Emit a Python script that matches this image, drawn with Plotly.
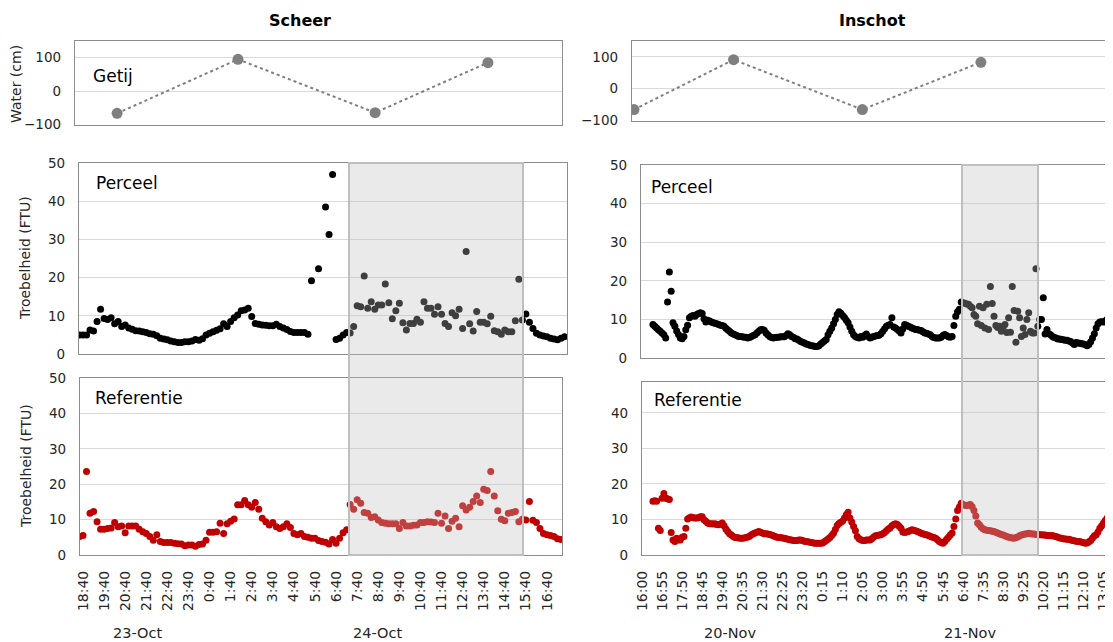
import pandas as pd
import plotly.graph_objects as go

W, H = 1113, 642

# ---------------- data ----------------
# Scheer: 10-minute measurements starting 23-Oct 18:30
left_start = "2019-10-23 18:30"
perceel_left = [
    5.0, 5.0, 5.0, 6.3, 6.0, 8.5, 11.7, 9.3, 9.0, 9.5,
    7.9, 8.5, 7.2, 7.6, 6.8, 6.5, 6.1, 6.0, 5.8, 5.6,
    5.3, 5.2, 4.8, 4.1, 3.9, 3.7, 3.4, 3.2, 3.0, 3.0,
    3.2, 3.2, 3.4, 3.8, 3.6, 4.0, 5.0, 5.4, 5.8, 6.2,
    6.6, 7.9, 7.2, 8.5, 9.5, 10.2, 11.3, 11.5, 12.0, 9.8,
    8.0, 7.8, 7.6, 7.5, 7.4, 7.4, 7.8, 7.2, 6.8, 6.4,
    5.9, 5.6, 5.6, 5.6, 5.6, 5.2, 19.2, None, 22.3, None,
    38.5, 31.3, 47.0, 3.8, 4.1, 5.0, 5.6, 5.5, 7.2, 12.6,
    12.4, 20.4, 12.0, 13.7, 11.7, 12.8, 12.8, 18.3, 13.4, 9.2,
    11.3, 13.3, 8.2, 6.3, 8.0, 8.0, 9.1, 8.3, 13.7, 12.0,
    12.0, 10.4, 12.4, 10.4, 8.0, 7.2, 10.8, 10.0, 11.7, 6.7,
    26.8, 7.9, 6.0, 11.1, 8.3, 8.3, 7.9, 9.9, 6.1, 5.8,
    5.2, 6.3, 5.8, 5.8, 8.7, 19.6, 8.9, 10.5, 8.3, 6.7,
    5.4, 5.0, 4.7, 4.5, 4.1, 3.9, 3.7, 4.1, 4.5,
]
referentie_left = [
    5.2, 5.5, 23.6, 11.8, 12.3, 9.4, 7.3, 7.3, 7.5, 7.6,
    9.2, 8.0, 8.2, 6.3, 8.2, 8.2, 8.2, 7.3, 6.6, 6.1,
    5.2, 4.2, 5.7, 3.8, 3.5, 3.5, 3.5, 3.3, 3.2, 3.1,
    2.6, 2.8, 2.8, 2.5, 3.0, 3.1, 4.2, 6.4, 6.4, 6.6,
    9.0, 6.1, 8.8, 9.5, 10.2, 14.2, 14.2, 15.4, 14.2, 13.5,
    14.8, 12.9, 10.4, 9.4, 8.5, 9.2, 8.0, 7.5, 8.0, 8.8,
    7.8, 6.1, 5.7, 6.1, 5.2, 5.0, 4.7, 4.7, 4.1, 3.8,
    3.6, 3.1, 4.4, 3.3, 4.7, 6.3, 7.1, 14.3, 12.9, 15.6,
    14.6, 12.0, 11.8, 10.6, 10.8, 9.9, 9.2, 9.0, 8.8, 8.8,
    8.8, 7.5, 9.2, 8.2, 8.2, 8.4, 8.5, 9.2, 9.2, 9.4,
    9.3, 9.2, 11.8, 9.0, 11.0, 7.5, 9.5, 10.4, 8.0, 13.9,
    12.7, 13.5, 15.1, 16.7, 14.8, 18.6, 18.2, 23.6, 16.7, 12.5,
    10.1, 9.7, 11.8, 12.0, 12.3, 9.4, 10.1, 9.9, 15.1, 9.8,
    9.2, 7.5, 6.1, 5.7, 5.5, 5.2, 4.6, 4.4,
]

# Inschot: 5-minute measurements starting 20-Nov 16:30
right_start = "2019-11-20 16:30"
perceel_right = [
    8.7, 8.2, 7.8, 7.3, 6.9, 6.5, 6.0, 5.2, 14.5, 22.3,
    17.3, 9.1, 8.2, 7.0, 6.1, 5.2, 5.0, 5.6, 7.3, 8.5,
    10.4, 10.8, 11.0, 10.8, 11.3, 11.5, 11.7, 11.5, 10.2, 9.3,
    9.8, 9.6, 9.3, 9.1, 9.0, 8.9, 8.7, 8.5, 8.4, 8.2,
    7.7, 7.3, 6.9, 6.5, 6.2, 6.0, 5.8, 5.6, 5.6, 5.5,
    5.4, 5.4, 5.2, 5.3, 5.6, 5.8, 6.0, 6.5, 6.9, 7.3,
    7.4, 7.2, 6.5, 6.0, 5.6, 5.3, 5.2, 5.3, 5.4, 5.4,
    5.5, 5.5, 5.5, 5.8, 6.3, 6.0, 5.6, 5.4, 5.0, 4.9,
    4.6, 4.3, 4.1, 3.9, 3.6, 3.5, 3.3, 3.2, 3.1, 3.0,
    3.0, 3.2, 3.6, 4.0, 4.4, 4.8, 6.0, 6.9, 7.8, 8.9,
    10.0, 11.3, 12.0, 11.6, 11.0, 10.5, 9.8, 9.1, 8.0, 6.9,
    6.0, 5.6, 5.3, 5.2, 5.6, 5.4, 5.8, 6.2, 5.6, 5.2,
    5.4, 5.6, 5.7, 5.8, 5.9, 6.3, 6.9, 7.6, 8.2, 8.5,
    8.7, 10.4, 8.0, 7.8, 7.4, 7.0, 6.5, 7.5, 8.7, 8.5,
    8.2, 8.0, 7.8, 7.6, 7.4, 7.4, 7.2, 7.1, 6.8, 6.5,
    6.4, 6.2, 6.0, 5.6, 5.3, 5.2, 5.2, 5.2, 5.4, 5.8,
    6.1, 5.8, 5.5, 5.4, 5.6, 8.4, 10.8, 12.0, 12.6, 14.5,
    14.3, 14.2, 14.0, 13.9, 13.4, 13.0, 11.3, 10.8, 8.9, 13.4,
    8.4, 13.0, 7.8, 13.9, 7.4, 18.5, 14.1, 10.8, 8.4, 7.9,
    8.2, 6.9, 8.0, 8.7, 6.6, 10.4, 6.7, 18.5, 12.3, 4.1,
    12.1, 10.4, 5.6, 7.8, 6.1, 10.0, 11.7, 6.9, 6.5, 6.5,
    23.1, 8.2, 10.0, 10.0, 15.6, 6.2, 7.4, 6.3, 6.0, 5.6,
    5.3, 5.2, 4.9, 4.9, 4.8, 4.7, 4.6, 4.6, 4.4, 4.3,
    3.9, 3.5, 4.0, 3.9, 3.8, 3.7, 3.6, 3.5, 3.2, 3.5,
    4.2, 5.2, 6.3, 7.8, 8.9, 9.3, 9.4, 9.3, 9.6, 10.0, 10.0,
]
referentie_right = [
    15.1, 15.3, 15.1, 7.5, 6.9, 16.0, 17.3, 16.0, 15.8, 15.6,
    6.3, 4.2, 3.8, 4.7, 4.2, 4.2, 5.0, 5.2, 7.5, 10.1,
    10.5, 10.7, 10.5, 10.4, 10.4, 10.5, 10.8, 10.8, 9.9, 9.5,
    9.0, 8.8, 8.8, 8.7, 8.8, 8.6, 8.5, 8.7, 9.0, 8.2,
    7.3, 6.6, 6.0, 5.6, 5.2, 4.9, 4.9, 4.8, 4.7, 4.7,
    4.8, 4.9, 5.1, 5.3, 5.7, 6.0, 6.2, 6.4, 6.6, 6.4,
    6.2, 6.0, 6.0, 5.9, 5.8, 5.6, 5.4, 5.2, 5.0, 4.9,
    4.9, 4.8, 4.7, 4.6, 4.4, 4.3, 4.2, 4.1, 4.1, 4.1,
    4.2, 4.2, 4.1, 3.9, 3.8, 3.7, 3.6, 3.5, 3.4, 3.3,
    3.3, 3.3, 3.3, 3.4, 3.7, 4.1, 4.5, 4.9, 5.5, 6.1,
    7.2, 8.3, 8.9, 9.2, 9.6, 10.4, 11.3, 12.0, 10.4, 9.3,
    8.0, 6.8, 5.2, 4.6, 4.3, 4.1, 4.1, 4.2, 4.2, 4.2,
    4.6, 5.1, 5.4, 5.5, 5.6, 5.7, 6.0, 6.3, 6.8, 7.3,
    7.6, 8.2, 8.6, 8.8, 8.6, 8.1, 7.5, 6.5, 6.3, 6.5,
    6.6, 6.9, 7.1, 7.0, 6.8, 6.6, 6.4, 6.1, 6.0, 5.8,
    5.7, 5.5, 5.3, 5.1, 4.9, 4.7, 4.3, 3.8, 3.5, 3.3,
    3.8, 4.4, 5.0, 5.6, 6.2, 8.0, 10.1, 12.5, 13.5, 14.6,
    14.2, 14.0, 13.9, 14.1, 14.2, 13.6, 12.5, 11.0, 9.0, 8.5,
    7.8, 7.4, 7.1, 7.0, 6.9, 6.8, 6.7, 6.6, 6.4, 6.2,
    6.0, 5.8, 5.6, 5.4, 5.2, 5.0, 4.9, 4.8, 4.7, 4.9,
    5.1, 5.4, 5.6, 5.8, 5.9, 6.0, 6.1, 6.0, 5.9, 5.9,
    5.8, 5.8, 5.7, 5.7, 5.6, 5.6, 5.5, 5.5, 5.4, 5.5,
    5.3, 5.2, 5.0, 4.8, 4.7, 4.6, 4.5, 4.4, 4.4, 4.3,
    4.1, 4.0, 3.9, 3.8, 3.8, 3.6, 3.5, 3.3, 3.4, 3.7,
    4.1, 4.8, 5.4, 5.7, 6.5, 7.5, 8.2, 9.0, 9.7, 10.4, 11.0,
]

# Tide (Getij), water level in cm
getij_left_time = ["2019-10-23 20:17", "2019-10-24 02:01", "2019-10-24 08:31", "2019-10-24 13:52"]
getij_left_level = [-67, 95, -65, 85]
getij_right_time = ["2019-11-20 15:38", "2019-11-20 20:11", "2019-11-21 02:04", "2019-11-21 07:29"]
getij_right_level = [-66, 91, -66, 83]

left_tick_labels = ["18:40", "19:40", "20:40", "21:40", "22:40", "23:40", "0:40", "1:40",
                    "2:40", "3:40", "4:40", "5:40", "6:40", "7:40", "8:40", "9:40",
                    "10:40", "11:40", "12:40", "13:40", "14:40", "15:40", "16:40"]
right_tick_labels = ["16:00", "16:55", "17:50", "18:45", "19:40", "20:35", "21:30", "22:25",
                     "23:20", "0:15", "1:10", "2:05", "3:00", "3:55", "4:50", "5:45",
                     "6:40", "7:35", "8:30", "9:25", "10:20", "11:15", "12:10", "13:05"]
left_dates = ["23-Oct", "24-Oct"]
right_dates = ["20-Nov", "21-Nov"]
titles = ["Scheer", "Inschot"]

# ---------------- layout helpers ----------------
FONT = "DejaVu Sans"
OFF = 8  # page body margin: the figure's paper starts 8px in from the window corner
L0 = pd.Timestamp("2019-10-23 18:40")
R0 = pd.Timestamp("2019-11-20 16:00")
L_PX_PER_HOUR = 21.09
R_PX_PER_MIN = 0.3648


def fmt(ts):
    return ts.strftime("%Y-%m-%d %H:%M:%S.%f")[:-3]


def lt(px):
    return fmt(L0 + pd.Timedelta(hours=(px - 83) / L_PX_PER_HOUR))


def rt(px):
    return fmt(R0 + pd.Timedelta(minutes=(px - 642) / R_PX_PER_MIN))


def xdom(x0, x1):
    return [(x0 - OFF) / W, min((x1 - OFF) / W, 1.0)]


def ydom(top, bottom):
    return [1 - (bottom - OFF) / H, 1 - (top - OFF) / H]


left_x = pd.date_range(left_start, periods=len(perceel_left), freq="10min")
left_xr = pd.date_range(left_start, periods=len(referentie_left), freq="10min")
right_x = pd.date_range(right_start, periods=len(perceel_right), freq="5min")
right_xr = pd.date_range(right_start, periods=len(referentie_right), freq="5min")
left_tickvals = pd.date_range("2019-10-23 18:40", periods=len(left_tick_labels), freq="60min")
right_tickvals = pd.date_range("2019-11-20 16:00", periods=len(right_tick_labels), freq="55min")

# panel boxes in window pixels: (x0, top, x1, bottom, time-mapper, yrange, ytickvals, right column?)
panels = {
    1: (75, 41, 562, 125, lt, [-102, 150], [-100, 0, 100], False),
    2: (79, 163, 567, 354, lt, [0, 50], [0, 10, 20, 30, 40, 50], False),
    3: (80, 378, 562, 555, lt, [0, 50], [0, 10, 20, 30, 40, 50], False),
    4: (632, 41, 1121, 121, rt, [-102, 150], [-100, 0, 100], True),
    5: (641, 165, 1121, 358, rt, [0, 50], [0, 10, 20, 30, 40, 50], True),
    6: (642, 382, 1121, 555, rt, [0, 48.7], [0, 10, 20, 30, 40], True),
}

FRAME = "#8c8c8c"
GRID = "#d9d9d9"
TICKCOL = "#262626"

fig = go.Figure()

fig.add_trace(go.Scatter(x=getij_left_time, y=getij_left_level, mode="lines+markers",
                         line=dict(color="#7f7f7f", width=2, dash="dot"),
                         marker=dict(color="#7f7f7f", size=11), xaxis="x", yaxis="y",
                         showlegend=False))
fig.add_trace(go.Scatter(x=left_x, y=perceel_left, mode="markers",
                         marker=dict(color="#000000", size=7), xaxis="x2", yaxis="y2",
                         showlegend=False))
fig.add_trace(go.Scatter(x=left_xr, y=referentie_left, mode="markers",
                         marker=dict(color="#c00000", size=7), xaxis="x3", yaxis="y3",
                         showlegend=False))
fig.add_trace(go.Scatter(x=getij_right_time, y=getij_right_level, mode="lines+markers",
                         line=dict(color="#7f7f7f", width=2, dash="dot"),
                         marker=dict(color="#7f7f7f", size=11), xaxis="x4", yaxis="y4",
                         showlegend=False))
fig.add_trace(go.Scatter(x=right_x, y=perceel_right, mode="markers",
                         marker=dict(color="#000000", size=7), xaxis="x5", yaxis="y5",
                         showlegend=False))
fig.add_trace(go.Scatter(x=right_xr, y=referentie_right, mode="markers",
                         marker=dict(color="#c00000", size=7), xaxis="x6", yaxis="y6",
                         showlegend=False))

layout = dict(width=W, height=H,
              margin=dict(l=0, r=0, t=0, b=0, pad=0, autoexpand=False),
              paper_bgcolor="white", plot_bgcolor="white",
              font=dict(family=FONT, color="#000000"))

for i, (x0, top, x1, bottom, mapper, yr, ytv, right_col) in panels.items():
    xn = "xaxis" if i == 1 else f"xaxis{i}"
    yn = "yaxis" if i == 1 else f"yaxis{i}"
    xa = "x" if i == 1 else f"x{i}"
    ya = "y" if i == 1 else f"y{i}"
    bottom_panel = i in (3, 6)
    layout[xn] = dict(
        type="date", domain=xdom(x0, x1), anchor=ya, automargin=False,
        range=[mapper(x0), mapper(x1)],
        showgrid=False, zeroline=False,
        showline=True, mirror=True, linecolor=FRAME, linewidth=1.3,
        tickvals=list(left_tickvals if not right_col else right_tickvals),
        ticktext=left_tick_labels if not right_col else right_tick_labels,
        showticklabels=bottom_panel, tickangle=-90,
        ticks="outside" if bottom_panel else "", ticklen=9, tickcolor="rgba(0,0,0,0)",
        tickfont=dict(family=FONT, size=14, color=TICKCOL),
    )
    layout[yn] = dict(
        domain=ydom(top, bottom), anchor=xa, range=yr, tickvals=ytv, automargin=False,
        showgrid=True, gridcolor=GRID, gridwidth=1.3, zeroline=False,
        showline=True, mirror=not right_col, linecolor=FRAME, linewidth=1.3,
        ticks="outside", ticklen=10, tickcolor="rgba(0,0,0,0)",
        tickfont=dict(family=FONT, size=13.5, color=TICKCOL),
    )

fig.update_layout(**layout)


def ann(text, px, py, size=14, xanchor="center", angle=0, bold=False, color="#000000"):
    fig.add_annotation(text=f"<b>{text}</b>" if bold else text,
                       x=(px - OFF) / W, y=1 - (py - OFF) / H, xref="paper", yref="paper",
                       xanchor=xanchor, yanchor="middle", showarrow=False,
                       textangle=angle, font=dict(family=FONT, size=size, color=color))


ann(titles[0], 300, 20, size=16, bold=True)
ann(titles[1], 872, 20, size=16, bold=True)
ann("Water (cm)", 16, 84, size=14, angle=-90, color="#262626")
ann("Troebelheid (FTU)", 25, 258, size=14, angle=-90, color="#262626")
ann("Troebelheid (FTU)", 26, 466, size=14, angle=-90, color="#262626")
ann("Getij", 91, 76, size=17, xanchor="left")
ann("Perceel", 94, 183, size=17, xanchor="left")
ann("Referentie", 93, 398, size=17, xanchor="left")
ann("Perceel", 649, 187, size=17, xanchor="left")
ann("Referentie", 652, 400, size=17, xanchor="left")
ann(left_dates[0], 137, 633, size=14.5, color="#262626")
ann(left_dates[1], 377, 633, size=14.5, color="#262626")
ann(right_dates[0], 730, 633, size=14.5, color="#262626")
ann(right_dates[1], 970, 633, size=14.5, color="#262626")

# semi-transparent highlight windows spanning Perceel + Referentie panels
for (sx0, stop, sx1, sbottom) in [(349, 163, 523, 555), (962, 165, 1038, 555)]:
    fig.add_shape(type="rect", xref="paper", yref="paper",
                  x0=(sx0 - OFF) / W, x1=(sx1 - OFF) / W,
                  y0=1 - (sbottom - OFF) / H, y1=1 - (stop - OFF) / H,
                  fillcolor="rgba(192,192,192,0.33)",
                  line=dict(color="#bfbfbf", width=2), layer="above")

fig.write_html("out.html")
